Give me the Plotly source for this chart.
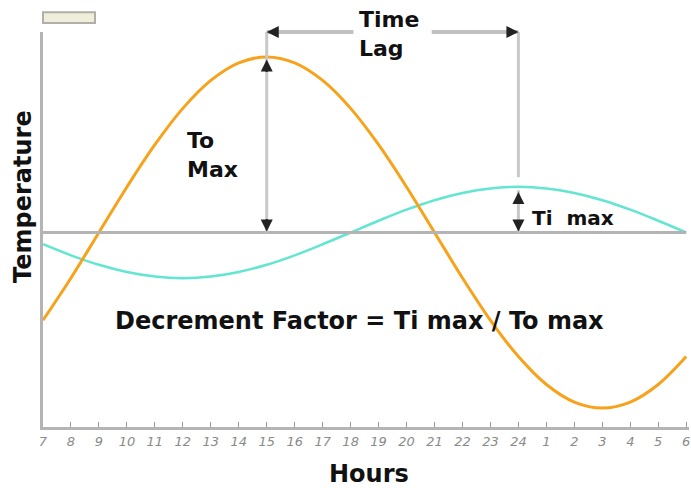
import plotly.graph_objects as go

# hours on the axis, 7 in the morning round to 6 next morning (25..30 = 1..6)
hours = [7, 8, 9, 10, 11, 12, 13, 14, 15, 16, 17, 18,
         19, 20, 21, 22, 23, 24, 25, 26, 27, 28, 29, 30]
hour_labels = ["7", "8", "9", "10", "11", "12", "13", "14", "15", "16", "17", "18",
               "19", "20", "21", "22", "23", "24", "1", "2", "3", "4", "5", "6"]

# outside temperature (orange) and inside temperature (cyan)
outside_temp = [15.00, 17.41, 20.00, 22.59, 25.00, 27.07, 28.66, 29.66, 30.00, 29.66, 28.66, 27.07,
                25.00, 22.59, 20.00, 17.41, 15.00, 12.93, 11.34, 10.34, 10.00, 10.34, 11.34, 12.93]
inside_temp = [19.33, 18.70, 18.16, 17.75, 17.49, 17.40, 17.49, 17.75, 18.16, 18.70, 19.33, 20.00,
               20.67, 21.30, 21.84, 22.25, 22.51, 22.60, 22.51, 22.25, 21.84, 21.30, 20.67, 20.00]

mean_temp = 20.0
outside_peak_hour = 15
inside_peak_hour = 24

GREY = "#b4b4b4"
BOLD = "DejaVu Sans"

fig = go.Figure()

fig.add_trace(go.Scatter(
    x=hours, y=inside_temp, mode="lines", line_shape="spline",
    line=dict(color="#62e6d2", width=2.5), hoverinfo="skip"
))
fig.add_trace(go.Scatter(
    x=hours, y=outside_temp, mode="lines", line_shape="spline",
    line=dict(color="#f7a21b", width=3), hoverinfo="skip"
))

shapes = [
    # mean line
    dict(type="line", xref="x", yref="y", x0=hours[0], x1=hours[-1],
         y0=mean_temp, y1=mean_temp, line=dict(color=GREY, width=3)),
    # verticals at the two peaks
    dict(type="line", xref="x", yref="y", x0=outside_peak_hour, x1=outside_peak_hour,
         y0=mean_temp, y1=32.1, line=dict(color="#c8c8c8", width=3)),
    dict(type="line", xref="x", yref="y", x0=inside_peak_hour, x1=inside_peak_hour,
         y0=23.15, y1=32.1, line=dict(color="#c8c8c8", width=3)),
    dict(type="line", xref="x", yref="y", x0=inside_peak_hour, x1=inside_peak_hour,
         y0=mean_temp, y1=22.4, line=dict(color="#c8c8c8", width=3)),
    # time lag shafts
    dict(type="line", xref="x", yref="paper", x0=outside_peak_hour, x1=18.1,
         y0=1.0, y1=1.0, line=dict(color="#c0c0c0", width=4)),
    dict(type="line", xref="x", yref="paper", x0=20.9, x1=inside_peak_hour,
         y0=1.0, y1=1.0, line=dict(color="#c0c0c0", width=4)),
    # cropped box top left
    dict(type="rect", xref="paper", yref="paper", x0=0.0, x1=0.0805,
         y0=1.023, y1=1.05, fillcolor="#efeedb", line=dict(color="#b0b0a8", width=2)),
]


def head(x, y, ax, ay, yref="y"):
    return dict(x=x, y=y, xref="x", yref=yref, text="", showarrow=True,
                ax=ax, ay=ay, arrowhead=2, arrowsize=1.2, arrowwidth=2,
                arrowcolor="#222222", standoff=0)


def label(text, x, y, size, xanchor="left", yref="y", xref="x"):
    return dict(x=x, y=y, xref=xref, yref=yref, text=text, showarrow=False,
                xanchor=xanchor, yanchor="middle", align="left",
                font=dict(family=BOLD, size=size, color="#111111", weight="bold"))


annotations = [
    head(outside_peak_hour, 29.85, 0, 14),
    head(outside_peak_hour, mean_temp + 0.05, 0, -14),
    head(inside_peak_hour, 22.3, 0, 10),
    head(inside_peak_hour, mean_temp + 0.05, 0, -10),
    head(outside_peak_hour, 1.0, 12, 0, yref="paper"),
    head(inside_peak_hour, 1.0, -12, 0, yref="paper"),
    label("Time<br>Lag", 18.23, 0.996, 22, yref="paper"),
    label("To<br>Max", 12.08, 24.4, 22),
    label("Ti  max", 24.42, 20.8, 20),
    label("Decrement Factor = Ti max / To max", 9.5, 14.95, 24),
    dict(x=-0.031, y=0.585, xref="paper", yref="paper", text="Temperature",
         showarrow=False, textangle=-90, xanchor="center", yanchor="middle",
         font=dict(family=BOLD, size=24, color="#111111", weight="bold")),
    dict(x=0.505, y=0, xref="paper", yref="paper", text="Hours", showarrow=False,
         yanchor="middle", yshift=-47,
         font=dict(family=BOLD, size=24, color="#111111", weight="bold")),
]

fig.update_layout(
    width=691, height=488,
    margin=dict(l=43, r=2, t=32, b=61),
    paper_bgcolor="white", plot_bgcolor="white",
    showlegend=False,
    shapes=shapes,
    annotations=annotations,
)

fig.update_xaxes(
    range=[7, 30.1], tickvals=hours, ticktext=hour_labels,
    showgrid=False, zeroline=False,
    showline=True, linecolor=GREY, linewidth=3,
    ticks="inside", ticklen=5, tickcolor="#999999", tickwidth=1,
    tickfont=dict(family="DejaVu Sans", size=13, color="#8a8a8a", style="italic"),
)
fig.update_yaxes(
    range=[8.92, 31.42], showticklabels=False, ticks="",
    showgrid=False, zeroline=False,
    showline=True, linecolor=GREY, linewidth=3,
)

# page body has a default 8px margin, drop it so the figure fills the window
fig.write_html("out.html", config={"displayModeBar": False},
               post_script="document.body.style.margin='0';")
